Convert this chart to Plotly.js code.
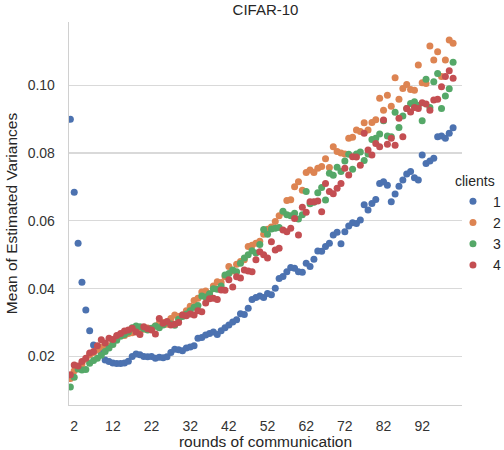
<!DOCTYPE html>
<html>
<head>
<meta charset="utf-8">
<script src="https://cdn.plot.ly/plotly-3.0.1.min.js"></script>
<style>html,body{margin:0;padding:0;background:#fff;overflow:hidden;}#chart{width:540px;height:450px;}</style>
</head>
<body>
<div id="chart"></div>
<script>
const rounds = [1,2,3,4,5,6,7,8,9,10,11,12,13,14,15,16,17,18,19,20,21,22,23,24,25,26,27,28,29,30,31,32,33,34,35,36,37,38,39,40,41,42,43,44,45,46,47,48,49,50,51,52,53,54,55,56,57,58,59,60,61,62,63,64,65,66,67,68,69,70,71,72,73,74,75,76,77,78,79,80,81,82,83,84,85,86,87,88,89,90,91,92,93,94,95,96,97,98,99,100];

const clients = ['1','2','3','4'];

const client1 = [0.0899,0.0684,0.0534,0.0419,0.0337,0.0276,0.0234,0.0220,0.0210,0.0190,
0.0185,0.0181,0.0179,0.0179,0.0181,0.0186,0.0200,0.0207,0.0205,0.0200,
0.0199,0.0200,0.0195,0.0198,0.0196,0.0199,0.0212,0.0221,0.0220,0.0217,
0.0225,0.0228,0.0232,0.0254,0.0256,0.0263,0.0268,0.0272,0.0265,0.0276,
0.0285,0.0293,0.0302,0.0308,0.0326,0.0324,0.0342,0.0368,0.0374,0.0378,
0.0374,0.0386,0.0382,0.0401,0.0430,0.0436,0.0450,0.0462,0.0460,0.0450,
0.0448,0.0475,0.0465,0.0487,0.0511,0.0510,0.0524,0.0534,0.0558,0.0566,
0.0532,0.0568,0.0585,0.0594,0.0592,0.0602,0.0647,0.0632,0.0651,0.0663,
0.0710,0.0715,0.0705,0.0656,0.0679,0.0702,0.0720,0.0738,0.0745,0.0727,
0.0720,0.0794,0.0769,0.0776,0.0784,0.0848,0.0850,0.0843,0.0858,0.0874];

const client2 = [0.0135,0.0158,0.0168,0.0178,0.0192,0.0205,0.0212,0.0220,0.0228,0.0224,
0.0232,0.0246,0.0258,0.0262,0.0262,0.0268,0.0270,0.0275,0.0282,0.0280,
0.0284,0.0280,0.0290,0.0298,0.0300,0.0295,0.0312,0.0322,0.0318,0.0322,
0.0335,0.0348,0.0365,0.0372,0.0390,0.0393,0.0385,0.0408,0.0420,0.0418,
0.0435,0.0465,0.0452,0.0472,0.0480,0.0485,0.0524,0.0528,0.0534,0.0540,
0.0560,0.0575,0.0582,0.0598,0.0615,0.0625,0.0660,0.0662,0.0700,0.0715,
0.0690,0.0742,0.0750,0.0742,0.0755,0.0760,0.0783,0.0757,0.0818,0.0804,
0.0800,0.0797,0.0843,0.0846,0.0868,0.0863,0.0889,0.0868,0.0890,0.0898,
0.0961,0.0926,0.0970,0.0938,0.1022,0.0958,0.0990,0.1002,0.0987,0.0985,
0.1059,0.1007,0.1005,0.1115,0.1074,0.1098,0.1025,0.1074,0.1133,0.1123];

const client3 = [0.0110,0.0139,0.0163,0.0160,0.0162,0.0180,0.0188,0.0195,0.0204,0.0215,
0.0225,0.0235,0.0248,0.0260,0.0265,0.0272,0.0285,0.0290,0.0288,0.0282,
0.0278,0.0283,0.0290,0.0285,0.0293,0.0300,0.0296,0.0292,0.0310,0.0318,
0.0325,0.0335,0.0345,0.0350,0.0378,0.0375,0.0385,0.0400,0.0398,0.0408,
0.0440,0.0445,0.0455,0.0450,0.0475,0.0490,0.0500,0.0512,0.0505,0.0530,
0.0574,0.0560,0.0576,0.0578,0.0580,0.0628,0.0618,0.0615,0.0622,0.0605,
0.0618,0.0686,0.0650,0.0655,0.0683,0.0698,0.0661,0.0740,0.0734,0.0758,
0.0745,0.0776,0.0796,0.0752,0.0797,0.0803,0.0778,0.0797,0.0840,0.0843,
0.0856,0.0895,0.0850,0.0848,0.0920,0.0875,0.0909,0.0931,0.0946,0.0951,
0.0940,0.0895,0.1017,0.0934,0.1010,0.1034,0.0931,0.0968,0.0989,0.1067];

const client4 = [0.0146,0.0175,0.0172,0.0185,0.0195,0.0210,0.0215,0.0232,0.0249,0.0240,
0.0254,0.0250,0.0262,0.0268,0.0275,0.0278,0.0283,0.0272,0.0265,0.0288,
0.0282,0.0278,0.0266,0.0312,0.0298,0.0303,0.0293,0.0295,0.0300,0.0322,
0.0320,0.0325,0.0322,0.0335,0.0332,0.0358,0.0370,0.0372,0.0368,0.0396,
0.0395,0.0426,0.0405,0.0435,0.0431,0.0455,0.0452,0.0450,0.0485,0.0509,
0.0500,0.0490,0.0538,0.0514,0.0519,0.0573,0.0568,0.0578,0.0607,0.0558,
0.0640,0.0625,0.0656,0.0656,0.0658,0.0627,0.0710,0.0686,0.0680,0.0696,
0.0710,0.0755,0.0735,0.0789,0.0788,0.0764,0.0858,0.0809,0.0794,0.0828,
0.0818,0.0897,0.0826,0.0843,0.0823,0.0902,0.0848,0.0931,0.0921,0.0934,
0.0931,0.0948,0.0944,0.0926,0.0956,0.0958,0.0995,0.1025,0.1042,0.1020];

const xTickVals = [2,12,22,32,42,52,62,72,82,92];
const xTickText = ['2','12','22','32','42','52','62','72','82','92'];
const yTickVals = [0.02,0.04,0.06,0.08,0.10];
const yTickText = ['0.02','0.04','0.06','0.08','0.10'];

const series = [client1, client2, client3, client4];
const colors = ['#4C72B0','#DD8452','#55A868','#C44E52'];

const traces = series.map((vals, i) => ({
  type: 'scatter',
  mode: 'markers',
  x: rounds,
  y: vals,
  name: clients[i],
  marker: {color: colors[i], size: 7, line: {width: 0}},
  hoverinfo: 'x+y+name'
}));

const FONT = 'Liberation Sans, Arial, sans-serif';

const layout = {
  width: 540,
  height: 450,
  margin: {l: 69, r: 78, t: 22, b: 45},
  paper_bgcolor: '#fff',
  plot_bgcolor: '#fff',
  font: {family: FONT, color: '#262626', size: 14},
  title: {text: 'CIFAR-10', font: {size: 15, color: '#262626'}, x: (265.5 / 540), xanchor: 'center', y: 0.978, yanchor: 'middle'},
  xaxis: {
    range: [0.65, 102.3],
    tickvals: xTickVals,
    ticktext: xTickText,
    showgrid: false,
    zeroline: false,
    showline: true,
    linecolor: '#d0d0d0',
    linewidth: 1.3,
    ticks: '',
    ticklabelstandoff: 8,
    tickfont: {size: 14, color: '#333'},
    title: {text: 'rounds of communication', font: {size: 15.5, color: '#262626'}, standoff: 7}
  },
  yaxis: {
    range: [0.0057, 0.1186],
    tickvals: yTickVals,
    ticktext: yTickText,
    showgrid: true,
    gridcolor: '#d9d9d9',
    gridwidth: 1.2,
    zeroline: false,
    showline: true,
    linecolor: '#d0d0d0',
    linewidth: 1.3,
    ticks: '',
    ticklabelstandoff: 10,
    tickfont: {size: 14, color: '#333'},
    title: {text: 'Mean of Estimated Variances', font: {size: 15.5, color: '#262626'}, standoff: 6}
  },
  legend: {
    title: {text: 'clients', font: {size: 14, color: '#262626'}},
    x: 0.977, xanchor: 'left',
    y: 0.62, yanchor: 'top',
    bgcolor: 'rgba(0,0,0,0)',
    font: {size: 14, color: '#262626'},
    tracegroupgap: 0,
    itemsizing: 'trace'
  },
  showlegend: true
};

Plotly.newPlot('chart', traces, layout, {displayModeBar: false, staticPlot: true});
</script>
</body>
</html>
